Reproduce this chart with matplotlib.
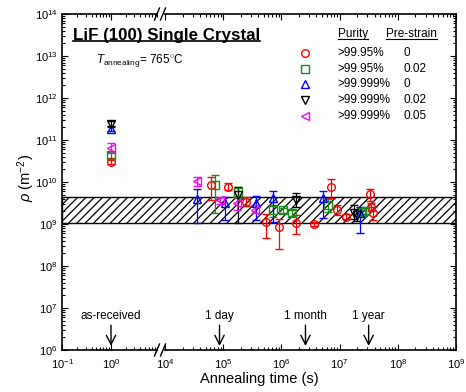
import numpy as np
import matplotlib
matplotlib.use("Agg")
import matplotlib.pyplot as plt
from matplotlib.ticker import FixedLocator, LogFormatterSciNotation, LogLocator, NullFormatter
from matplotlib.lines import Line2D
from matplotlib.patches import Rectangle

plt.rcParams['font.family'] = ['Liberation Sans', 'DejaVu Sans']
plt.rcParams['mathtext.fontset'] = 'custom'
plt.rcParams['mathtext.rm'] = 'Liberation Sans'
plt.rcParams['mathtext.it'] = 'Liberation Sans:italic'
plt.rcParams['mathtext.bf'] = 'Liberation Sans:bold'
plt.rcParams['hatch.linewidth'] = 0.9

# ---------------- data ----------------
purity = [">99.95%", ">99.95%", ">99.999%", ">99.999%", ">99.999%"]
prestrain = ["0", "0.02", "0", "0.02", "0.05"]

# red circles: >99.95 %, 0
t_a = [1, 6.1e4, 1.23e5, 2.46e5, 5.4e5, 9.2e5, 1.8e6, 3.6e6, 7.2e6, 9.0e6, 1.3e7, 3.3e7, 3.4e7, 3.7e7]
rho_a = [3.0e10, 8.5e9, 7.8e9, 3.4e9, 1.12e9, 8.7e8, 1.05e9, 1.0e9, 7.8e9, 2.2e9, 1.5e9, 5.1e9, 2.6e9, 1.86e9]
lo_a = [2.7e10, 3.7e9, 6.5e9, 2.7e9, 4.6e8, 2.6e8, 5.8e8, 0.9e9, 4.1e9, 1.6e9, 1.3e9, 3.6e9, 2.0e9, 1.25e9]
hi_a = [3.4e10, 1.35e10, 9.5e9, 4.3e9, 1.7e9, 1.35e9, 1.6e9, 1.1e9, 1.18e10, 2.9e9, 1.75e9, 6.8e9, 3.2e9, 2.5e9]

# green squares: >99.95 %, 0.02
t_b = [1, 7.2e4, 1.78e5, 7.2e5, 1.07e6, 1.5e6, 6.3e6, 2.4e7, 2.75e7]
rho_b = [4.4e10, 8.5e9, 5.9e9, 2.15e9, 2.1e9, 1.86e9, 2.8e9, 1.9e9, 2.0e9]
lo_b = [3.8e10, 1.86e9, 4.2e9, 1.5e9, 1.8e9, 1.55e9, 1.9e9, 1.5e9, 1.7e9]
hi_b = [5.2e10, 1.47e10, 7.6e9, 2.9e9, 2.4e9, 2.2e9, 3.9e9, 2.4e9, 2.4e9]

# blue up-triangles: >99.999 %, 0
t_c = [1, 3.5e4, 1.07e5, 3.6e5, 7.2e5, 5.1e6, 2.2e7]
rho_c = [1.8e11, 3.9e9, 3.2e9, 3.2e9, 4.1e9, 4.1e9, 1.86e9]
lo_c = [1.6e11, 1.05e9, 1.25e9, 1.25e9, 1.12e9, 1.4e9, 6.2e8]
hi_c = [2.0e11, 6.8e9, 4.5e9, 4.6e9, 6.2e9, 6.2e9, 2.6e9]

# black down-triangles: >99.999 %, 0.02
t_d = [1, 1.78e5, 1.8e6, 1.8e7, 2.0e7]
rho_d = [2.4e11, 4.9e9, 3.7e9, 1.8e9, 1.6e9]
lo_d = [2.1e11, 1.05e9, 2.6e9, 1.3e9, 1.2e9]
hi_d = [2.8e11, 7.8e9, 5.6e9, 2.8e9, 2.0e9]

# magenta left-triangles: >99.999 %, 0.05
t_e = [1, 3.5e4, 8.8e4, 1.7e5, 3.5e5]
rho_e = [6.4e10, 1.05e10, 3.7e9, 3.2e9, 2.15e9]
lo_e = [5.0e10, 8.0e9, 3.0e9, 2.2e9, 1.8e9]
hi_e = [8.5e10, 1.3e10, 4.5e9, 4.5e9, 2.8e9]

band_lo = 1.05e9
band_hi = 4.5e9

marks_t = [1, 86400, 2.592e6, 3.1536e7]
marks_lbl = ["as-received", "1 day", "1 month", "1 year"]

x_major = [1e-1, 1e0, 1e4, 1e5, 1e6, 1e7, 1e8, 1e9]

# --------------- broken log scale ---------------
A = 48.5   # px per decade left of break
B = 58.2   # px per decade right of break


def fwd(t):
    t = np.asarray(t, dtype=float)
    l = np.log10(np.clip(t, 1e-300, None))
    return np.where(l <= 1, (l + 1) * A,
                    np.where(l >= 4, 2 * A + 5.5 + (l - 4) * B,
                             2 * A + (l - 1) * (5.5 / 3)))


def inv(u):
    u = np.asarray(u, dtype=float)
    with np.errstate(over='ignore'):
        return np.where(u <= 2 * A, 10 ** (u / A - 1),
                        np.where(u >= 2 * A + 5.5, 10 ** ((u - 2 * A - 5.5) / B + 4),
                                 10 ** ((u - 2 * A) * 3 / 5.5 + 1)))


W, H = 466, 392
fig = plt.figure(figsize=(W / 100, H / 100), dpi=100)
L, R, T, Bm = 62.5, 456, 14, 350
ax = fig.add_axes([L / W, 1 - Bm / H, (R - L) / W, (Bm - T) / H])
ax.set_xscale('function', functions=(fwd, inv))
ax.set_yscale('log')
ax.set_xlim(1e-1, 1e9)
ax.set_ylim(1e6, 1e14)

ax.xaxis.set_major_locator(FixedLocator(x_major))
ax.xaxis.set_major_formatter(LogFormatterSciNotation())
minors = [k * 10.0 ** n for n in [-1, 0, 4, 5, 6, 7, 8] for k in range(2, 10)]
ax.xaxis.set_minor_locator(FixedLocator(minors))
ax.xaxis.set_minor_formatter(NullFormatter())
ax.yaxis.set_major_locator(LogLocator(base=10, numticks=20))
ax.yaxis.set_minor_locator(LogLocator(base=10, subs=np.arange(2, 10), numticks=20))
ax.yaxis.set_minor_formatter(NullFormatter())

ax.tick_params(which='both', direction='in', top=True, right=True, width=0.8, labelsize=8)
ax.tick_params(which='major', length=4.5)
ax.tick_params(which='minor', length=2.2)
ax.tick_params(axis='x', which='major', pad=5)
for s in ax.spines.values():
    s.set_linewidth(1.2)

# hatched band
ax.axhspan(band_lo, band_hi, facecolor='white', edgecolor='black', hatch='////',
           linewidth=1.0, zorder=0.5)

series = [
    (t_a, rho_a, lo_a, hi_a, 'o', '#FF0000'),
    (t_b, rho_b, lo_b, hi_b, 's', '#1A8C1A'),
    (t_c, rho_c, lo_c, hi_c, '^', '#0000FF'),
    (t_d, rho_d, lo_d, hi_d, 'v', '#000000'),
    (t_e, rho_e, lo_e, hi_e, '<', '#FF00FF'),
]
for t, r, lo, hi, m, c in series:
    r = np.array(r)
    yerr = [r - np.array(lo), np.array(hi) - r]
    ax.errorbar(t, r, yerr=yerr, fmt=m, mfc='none', mec=c, ms=5.5, mew=1.0,
                ecolor=c, elinewidth=0.9, capsize=2.8, capthick=0.9, zorder=3)

# arrows marking times
for tt, lbl in zip(marks_t, marks_lbl):
    ax.text(tt, 5.5e6, lbl, ha='center', va='baseline', fontsize=8.5)
    ax.annotate('', xy=(tt, 1.25e6), xytext=(tt, 3.9e6),
                arrowprops=dict(arrowstyle='->,head_length=0.55,head_width=0.28',
                                color='black', lw=1.0, shrinkA=0, shrinkB=0,
                                mutation_scale=12))

ax.set_xlabel('Annealing time (s)', fontsize=10.5)
ax.xaxis.set_label_coords(0.5, (Bm - 372) / (Bm - T))
ax.set_ylabel(r'$\rho$ (m$^{-2}$)', fontsize=10.5)
ax.yaxis.set_label_coords((37 - L) / (R - L), (Bm - 178) / (Bm - T))


def axp(px, py):
    return ((px - L) / (R - L), (Bm - py) / (Bm - T))


title = ax.text(*axp(73, 35), 'LiF (100) Single Crystal', fontsize=12.2, fontweight='bold',
                ha='left', va='center', transform=ax.transAxes)
ax.text(*axp(96, 60), r'$T_{\mathregular{annealing}}$= 765$^{\circ}$C', fontsize=8.5,
        ha='left', va='center', transform=ax.transAxes)

h1 = ax.text(*axp(338, 34), 'Purity', fontsize=8.5, ha='left', va='center', transform=ax.transAxes)
h2 = ax.text(*axp(386, 34), 'Pre-strain', fontsize=8.5, ha='left', va='center', transform=ax.transAxes)
rows_y = [53, 69, 84, 100, 116]
for (t, r, lo, hi, m, c), py, p, s in zip(series, rows_y, purity, prestrain):
    xa, ya = axp(305, py)
    ax.add_line(Line2D([xa], [ya], marker=m, mfc='none', mec=c, ms=5.5, mew=1.0,
                       ls='none', transform=ax.transAxes))
    ax.text(*axp(337, py), p, fontsize=8.5, ha='left', va='center', transform=ax.transAxes)
    ax.text(*axp(404, py), s, fontsize=8.5, ha='left', va='center', transform=ax.transAxes)

fig.canvas.draw()
rend = fig.canvas.get_renderer()
for txt, off in [(title, 1.5), (h1, 1.0), (h2, 1.0)]:
    bb = txt.get_window_extent(renderer=rend)
    y = bb.y0 + off
    fig.add_artist(Line2D([bb.x0 / W, bb.x1 / W], [y / H, y / H], color='black',
                          lw=1.2 if txt is title else 0.8, transform=fig.transFigure))

# axis break marks
for ys in (T, Bm):
    fig.add_artist(Rectangle(((157.5) / W, 1 - (ys + 2.5) / H), 6.5 / W, 5 / H,
                             facecolor='white', edgecolor='none', transform=fig.transFigure,
                             zorder=5))
    for x0 in (157, 163):
        fig.add_artist(Line2D([(x0 - 2.5) / W, (x0 + 2.5) / W],
                              [1 - (ys + 6) / H, 1 - (ys - 6) / H],
                              color='black', lw=1.0, transform=fig.transFigure, zorder=6))

fig.savefig('out.png', dpi=100)
